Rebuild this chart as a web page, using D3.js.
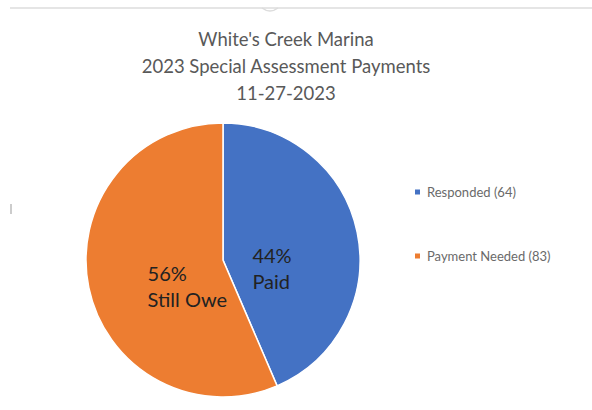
<!DOCTYPE html>
<html>
<head>
<meta charset="utf-8">
<script src="https://cdn.jsdelivr.net/npm/d3@7"></script>
<style>
  body { margin: 0; background: #fff; }
  text { font-family: Lato, "Open Sans", sans-serif; }
</style>
</head>
<body>
<svg width="592" height="410"></svg>
<script>
const categories = ["Responded", "Payment Needed"];
const counts = [64, 83];
const sliceLabels = [["44%", "Paid"], ["56%", "Still Owe"]];
const titleLines = ["White's Creek Marina", "2023 Special Assessment Payments", "11-27-2023"];

const colors = d3.scaleOrdinal()
  .domain(categories)
  .range(["#4472C4", "#ED7D31"]);

const svg = d3.select("svg");

// frame edge at the top of the screenshot, plus the little handle marks
svg.append("line")
  .attr("x1", 10).attr("x2", 592)
  .attr("y1", 8).attr("y2", 8)
  .attr("stroke", "#dcdcdc")
  .attr("stroke-width", 1.5);
svg.append("path")
  .attr("d", "M262,8 Q270,14 278,8")
  .attr("fill", "none")
  .attr("stroke", "#dcdcdc")
  .attr("stroke-width", 1.5);
svg.append("line")
  .attr("x1", 11).attr("x2", 11)
  .attr("y1", 204).attr("y2", 214)
  .attr("stroke", "#999")
  .attr("stroke-width", 1);

svg.append("g")
  .selectAll("text")
  .data(titleLines)
  .join("text")
  .attr("x", 286)
  .attr("y", (d, i) => 46 + i * 27)
  .attr("text-anchor", "middle")
  .attr("font-size", 18.5)
  .attr("fill", "#595959")
  .text(d => d);

const cx = 223, cy = 260, radius = 137;

const pie = d3.pie().sort(null).value(d => d.value);
const arc = d3.arc().innerRadius(0).outerRadius(radius);
const slices = pie(categories.map((c, i) => ({ name: c, value: counts[i], label: sliceLabels[i] })));

const g = svg.append("g").attr("transform", `translate(${cx},${cy})`);

g.selectAll("path")
  .data(slices)
  .join("path")
  .attr("d", arc)
  .attr("fill", d => colors(d.data.name))
  .attr("stroke", "#fff")
  .attr("stroke-width", 1.5);

const labelArc = d3.arc().innerRadius(radius * 0.45).outerRadius(radius * 0.45);
const labelShift = [[-31, 15], [-15, 9]];

g.selectAll("text.lbl")
  .data(slices)
  .join("text")
  .attr("class", "lbl")
  .attr("transform", (d, i) => {
    const [x, y] = labelArc.centroid(d);
    return `translate(${x + labelShift[i][0]},${y + labelShift[i][1]})`;
  })
  .attr("font-size", 20)
  .attr("fill", "#222")
  .selectAll("tspan")
  .data(d => d.data.label)
  .join("tspan")
  .attr("x", 0)
  .attr("dy", (d, i) => i === 0 ? 0 : 26)
  .text(d => d);

const legend = svg.append("g")
  .selectAll("g")
  .data(categories)
  .join("g")
  .attr("transform", (d, i) => `translate(415,${192 + i * 64})`);

legend.append("rect")
  .attr("x", 0).attr("y", -2.5)
  .attr("width", 5).attr("height", 5)
  .attr("fill", d => colors(d));

legend.append("text")
  .attr("x", 12)
  .attr("y", 4.5)
  .attr("font-size", 13)
  .attr("fill", "#6a6a6a")
  .text((d, i) => `${d} (${counts[i]})`);
</script>
</body>
</html>
